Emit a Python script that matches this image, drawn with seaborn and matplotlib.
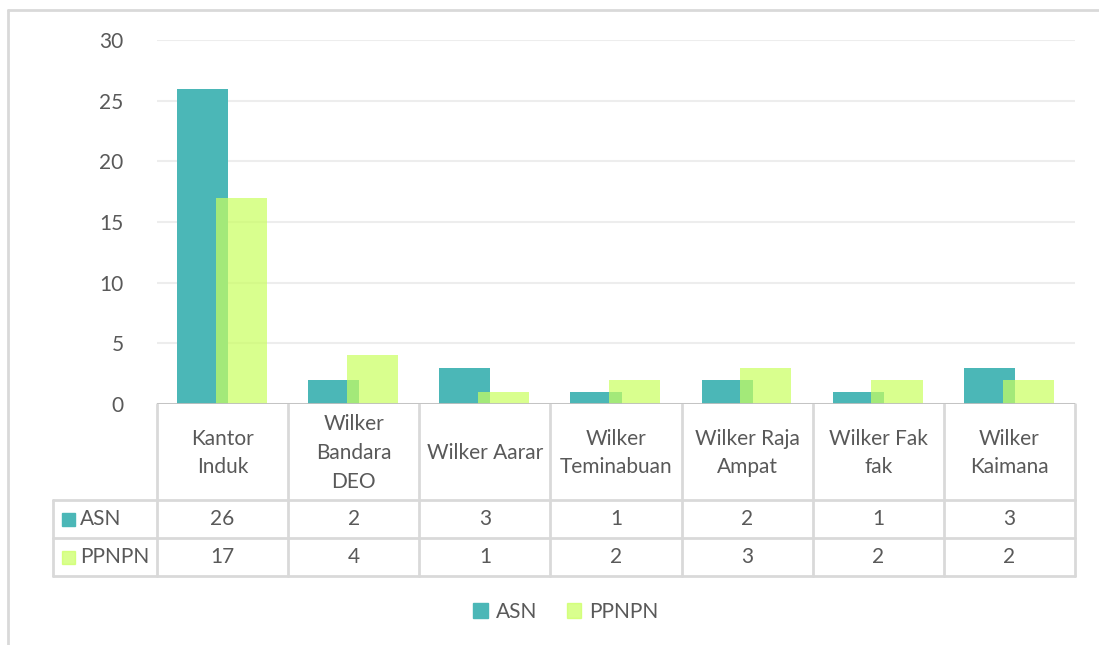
import pandas as pd
import seaborn as sns
from matplotlib import pyplot as plt
from matplotlib.patches import Patch, Rectangle

kategori = ['Kantor\nInduk', 'Wilker\nBandara\nDEO', 'Wilker Aarar', 'Wilker\nTeminabuan',
            'Wilker Raja\nAmpat', 'Wilker Fak\nfak', 'Wilker\nKaimana']
asn = [26, 2, 3, 1, 2, 1, 3]
ppnpn = [17, 4, 1, 2, 3, 2, 2]
seri = ['ASN', 'PPNPN']

teal = '#4BB7B7'
green = '#CAFF5F'
grey_txt = '#595959'
line_col = '#D9D9D9'

sns.set_style('white')
plt.rcParams['font.family'] = ['Lato', 'DejaVu Sans']
fs = 15

data = pd.DataFrame({
    'kategori': kategori * 2,
    'jumlah': asn + ppnpn,
    'seri': ['ASN'] * len(asn) + ['PPNPN'] * len(ppnpn),
})

W, H = 1099, 645
fig = plt.figure(figsize=(W / 100, H / 100), dpi=100)

# plot area in pixels
x0, x1, ytop, ybot = 157, 1075, 40, 404
ax = fig.add_axes([x0 / W, 1 - ybot / H, (x1 - x0) / W, (ybot - ytop) / H])

sns.barplot(data=data, x='kategori', y='jumlah', hue='seri', palette=[teal, green],
            saturation=1, dodge=True, width=0.78, errorbar=None, legend=False, ax=ax)

# excel style overlapping bars
bw = 0.39
for k, cont in enumerate(ax.containers):
    off = -0.153 if k == 0 else 0.143
    for i, bar in enumerate(cont):
        bar.set_width(bw)
        bar.set_x(i + off - bw / 2)
        bar.set_linewidth(0)
        if k == 1:
            bar.set_alpha(0.7)
        bar.set_zorder(3 + k)

ax.set_xlim(-0.5, len(kategori) - 0.5)
ax.set_ylim(0, 30)
ax.set_yticks(range(0, 31, 5))
ax.yaxis.grid(True, color='#EDEDED', lw=1.5, zorder=0)
ax.set_axisbelow(True)
ax.set_xticks([])
ax.set_xlabel('')
ax.set_ylabel('')
for s in ax.spines.values():
    s.set_visible(False)
ax.tick_params(axis='y', length=0, pad=24, labelsize=fs, labelcolor=grey_txt)
ax.axhline(0, color='#BFBFBF', lw=2, zorder=5)

# overlay axes in pixel coordinates for table and border
ov = fig.add_axes([0, 0, 1, 1], zorder=-1)
ov.set_xlim(0, W)
ov.set_ylim(H, 0)
ov.axis('off')

# chart border (cropped at right/bottom)
ov.plot([8, W], [10, 10], color=line_col, lw=2)
ov.plot([8, 8], [10, H], color=line_col, lw=2)

# data table
n = len(kategori)
cw = (x1 - x0) / n
r_head, r1, r2, r3 = 404, 500, 538, 576
tleft = 53
for i in range(n + 1):
    xx = x0 + i * cw
    ov.plot([xx, xx], [r_head, r3], color=line_col, lw=2)
ov.plot([tleft, tleft], [r1, r3], color=line_col, lw=2)
for yy in [r1, r2, r3]:
    ov.plot([tleft, x1], [yy, yy], color=line_col, lw=2)

for i, cat in enumerate(kategori):
    cx = x0 + (i + 0.5) * cw
    ov.text(cx, (r_head + r1) / 2 + 1, cat, ha='center', va='center', fontsize=fs,
            color=grey_txt, linespacing=1.55)
    ov.text(cx, (r1 + r2) / 2, str(asn[i]), ha='center', va='center', fontsize=fs, color=grey_txt)
    ov.text(cx, (r2 + r3) / 2, str(ppnpn[i]), ha='center', va='center', fontsize=fs, color=grey_txt)

for j, (name, col) in enumerate(zip(seri, [teal, green])):
    yc = (r1 + r2) / 2 if j == 0 else (r2 + r3) / 2
    ov.add_patch(Rectangle((62, yc - 6), 13, 13, color=col, alpha=1 if j == 0 else 0.7))
    ov.text(80, yc, name, ha='left', va='center', fontsize=fs, color=grey_txt)

# legend
handles = [Patch(color=teal), Patch(color=green, alpha=0.7)]
fig.legend(handles, seri, loc='center', bbox_to_anchor=(0.515, 1 - 612 / H), ncol=2,
           frameon=False, fontsize=fs, labelcolor=grey_txt, handlelength=0.7,
           handleheight=0.7, handletextpad=0.4, columnspacing=1.4)

fig.savefig('out.png', dpi=100)
